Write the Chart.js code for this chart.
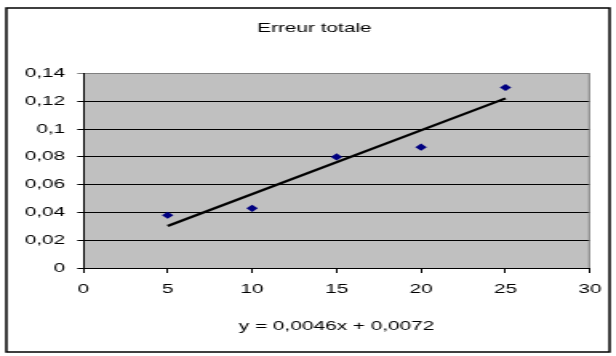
<!DOCTYPE html>
<html>
<head>
<meta charset="utf-8">
<script src="https://cdn.jsdelivr.net/npm/chart.js@4"></script>
<style>
  html, body { margin: 0; padding: 0; background: #fff; }
  #wrap {
    position: absolute; left: 0; top: 0;
    width: 385px; height: 356px;
    transform: scaleX(1.6); transform-origin: 0 0;
  }
</style>
</head>
<body>
<div id="wrap"><canvas id="myChart"></canvas></div>
<script>
// valeurs
const xValues = [5, 10, 15, 20, 25];
const yValues = [0.038, 0.043, 0.080, 0.087, 0.130];

// courbe de tendance (y = 0,0046x + 0,0072), extrémités
const trendX = [5, 25];
const trendY = [0.0302, 0.1222];

const titleText = 'Erreur totale';
const equationText = 'y = 0,0046x + 0,0072';

const FONT = "'Liberation Sans', Arial, sans-serif";

// fond gris de la zone de traçage + cadre extérieur
const plotBackground = {
  id: 'plotBackground',
  beforeDraw(chart) {
    const { ctx, chartArea: a } = chart;
    ctx.save();
    ctx.fillStyle = '#c0c0c0';
    ctx.fillRect(a.left, a.top, a.right - a.left, a.bottom - a.top);
    ctx.restore();
  },
  beforeDatasetsDraw(chart) {
    const { ctx, chartArea: a } = chart;
    ctx.save();
    ctx.strokeStyle = '#808080';
    ctx.lineWidth = 1;
    ctx.beginPath();
    ctx.moveTo(a.right - 0.5, a.top);
    ctx.lineTo(a.right - 0.5, a.bottom);
    ctx.stroke();
    ctx.restore();
  },
  afterDraw(chart) {
    const { ctx } = chart;
    ctx.save();
    ctx.strokeStyle = '#000';
    ctx.lineWidth = 1.5;
    ctx.strokeRect(4, 8, chart.width - 8, chart.height - 12);
    ctx.restore();
  }
};

const ctx = document.getElementById('myChart').getContext('2d');
const chart = new Chart(ctx, {
  type: 'scatter',
  data: {
    datasets: [
      {
        label: 'tendance',
        data: trendX.map((x, i) => ({ x: x, y: trendY[i] })),
        showLine: true,
        borderColor: '#000',
        borderWidth: 2.2,
        pointRadius: 0,
        order: 0
      },
      {
        label: 'Erreur totale',
        data: xValues.map((x, i) => ({ x: x, y: yValues[i] })),
        pointStyle: 'rectRot',
        pointRadius: 3.6,
        backgroundColor: '#000080',
        borderColor: '#000080',
        borderWidth: 0,
        order: 1
      }
    ]
  },
  options: {
    responsive: true,
    maintainAspectRatio: false,
    animation: false,
    layout: { padding: { left: 8, right: 0, top: 0, bottom: 0 } },
    plugins: {
      legend: { display: false },
      tooltip: { enabled: false },
      title: {
        display: true,
        text: titleText,
        color: '#000',
        font: { family: FONT, size: 13, weight: 'normal' },
        padding: { top: 21, bottom: 37 }
      }
    },
    scales: {
      x: {
        type: 'linear',
        min: 0,
        max: 30,
        ticks: {
          stepSize: 5,
          color: '#000',
          padding: 9,
          font: { family: FONT, size: 13 }
        },
        grid: {
          drawOnChartArea: false,
          drawTicks: true,
          tickLength: 5,
          color: '#000'
        },
        border: { display: true, color: '#000', width: 1 },
        title: {
          display: true,
          text: equationText,
          color: '#000',
          font: { family: FONT, size: 13 },
          padding: { top: 0, bottom: 22 }
        },
        afterFit(scale) { scale.height = 88; }
      },
      y: {
        type: 'linear',
        min: 0,
        max: 0.14,
        ticks: {
          stepSize: 0.02,
          color: '#000',
          padding: 7.5,
          font: { family: FONT, size: 13 },
          callback: v => String(+v.toFixed(2)).replace('.', ',')
        },
        grid: {
          drawTicks: true,
          tickLength: 3.7,
          color: c => (c.index === 7 ? '#808080' : '#000'),
          lineWidth: 1
        },
        border: { display: true, color: '#000', width: 1 },
        afterFit(scale) { scale.width = 44; }
      },
      yRight: {
        type: 'linear',
        position: 'right',
        display: true,
        grid: { display: false },
        ticks: { display: false },
        border: { display: false },
        afterFit(scale) { scale.width = 16; }
      }
    }
  },
  plugins: [plotBackground]
});
</script>
</body>
</html>
